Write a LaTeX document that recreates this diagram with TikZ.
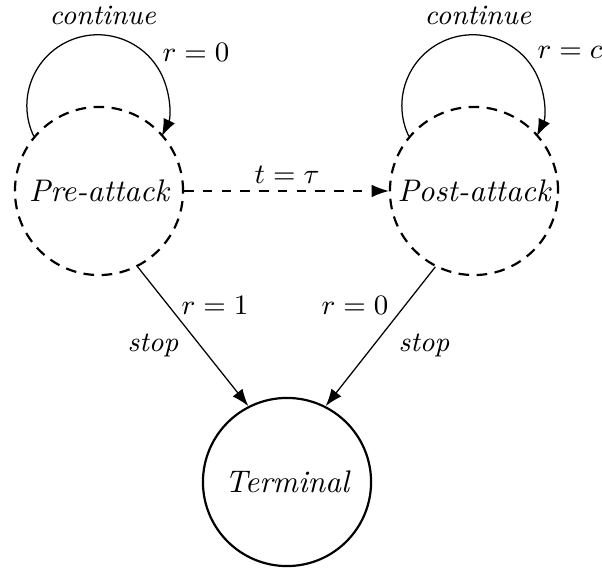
\documentclass[tikz,border=0pt]{standalone}
\usetikzlibrary{arrows.meta}
\begin{document}
\begin{tikzpicture}[x=0.32pt,y=0.32pt,
  state/.style={circle,draw,line width=0.7pt,minimum size=53.8pt,inner sep=0pt,font=\itshape},
  dstate/.style={state,dash pattern=on 3.4pt off 2.4pt},
  lbl/.style={font=\small,inner sep=0pt},
  arr/.style={line width=0.4pt,-{Latex[length=5.5pt,width=4pt]}}]
\useasboundingbox (0,0) rectangle (602,570);
\node[dstate] (pre) at (99,379) {Pre-attack};
\node[dstate] (post) at (474,379) {Post-attack};
\node[state] (term) at (287,88) {Terminal};
% loops
\draw[arr] (pre.140) arc[start angle=205.5,end angle=-25.5,radius=22.7pt];
\draw[arr] (post.140) arc[start angle=205.5,end angle=-25.5,radius=22.7pt];
\node[lbl] (c1) at (103,555) {\textit{continue}};
\node[lbl] (r1) at (196,518) {$r=0$};
\node[lbl] (c2) at (478,555) {\textit{continue}};
\node[lbl] (r2) at (570,518) {$r=c$};
% transition
\draw[arr,dashed] (pre.east) -- (post.west);
\node[lbl] (tt) at (287,395) {$t=\tau$};
% stops
\draw[arr] (pre.-63) -- (term.117);
\draw[arr] (post.-117) -- (term.63);
\node[lbl] (r3) at (215,265) {$r=1$};
\node[lbl] (s1) at (153,225) {\textit{stop}};
\node[lbl] (r4) at (355,265) {$r=0$};
\node[lbl] (s2) at (424,225) {\textit{stop}};
\end{tikzpicture}
\end{document}
